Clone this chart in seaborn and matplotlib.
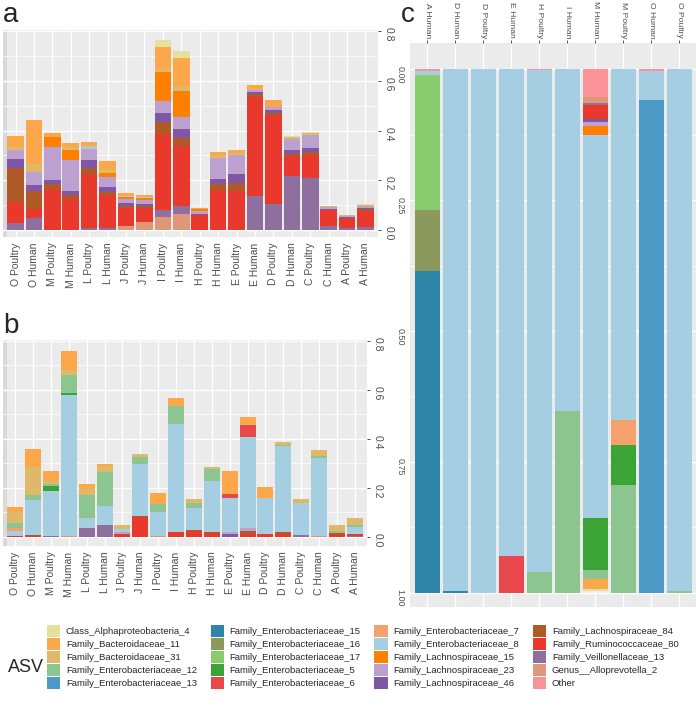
import matplotlib
matplotlib.use("Agg")
import matplotlib.pyplot as plt
import pandas as pd
import seaborn as sns
from matplotlib.patches import Patch, Rectangle
from matplotlib.ticker import MultipleLocator

# ASVs in legend order (stacks are built from the last one at the baseline)
ASV_NAMES = [
    "Class_Alphaproteobacteria_4", "Family_Bacteroidaceae_11", "Family_Bacteroidaceae_31",
    "Family_Enterobacteriaceae_12", "Family_Enterobacteriaceae_13", "Family_Enterobacteriaceae_15",
    "Family_Enterobacteriaceae_16", "Family_Enterobacteriaceae_17", "Family_Enterobacteriaceae_5",
    "Family_Enterobacteriaceae_6", "Family_Enterobacteriaceae_7", "Family_Enterobacteriaceae_8",
    "Family_Lachnospiraceae_15", "Family_Lachnospiraceae_23", "Family_Lachnospiraceae_46",
    "Family_Lachnospiraceae_84", "Family_Ruminococcaceae_80", "Family_Veillonellaceae_13",
    "Genus__Alloprevotella_2", "Other",
]
ASV_COLORS = [
    "#E5E09E", "#FDA74B", "#DFB86A", "#8CC590", "#4E9AC7", "#2E87A9", "#8B995C",
    "#89CC6B", "#3CA437", "#E8484B", "#F5A16E", "#A6CEE3", "#FF7F00", "#BBA0D0",
    "#7F57A6", "#B05A28", "#E8392C", "#8F6F9D", "#E0967A", "#F99398",
]

SAMPLES_AB = [
    "O Poultry", "O Human", "M Poultry", "M Human", "L Poultry", "L Human",
    "J Poultry", "J Human", "I Poultry", "I Human", "H Poultry", "H Human",
    "E Poultry", "E Human", "D Poultry", "D Human", "C Poultry", "C Human",
    "A Poultry", "A Human",
]
SAMPLES_C = [
    "A Human", "D Human", "D Poultry", "E Human", "H Poultry",
    "I Human", "M Human", "M Poultry", "O Human", "O Poultry",
]

# panel a: relative abundance, one value per sample in SAMPLES_AB
abund_a = {
    "Class_Alphaproteobacteria_4": [0, 0, 0, 0, 0, 0, 0, 0, 0.027, 0.031, 0, 0, 0, 0, 0, 0.004, 0.003, 0, 0, 0.003],
    "Family_Bacteroidaceae_11": [0.044, 0.177, 0.017, 0.016, 0.011, 0.036, 0.011, 0.007, 0.091, 0.114, 0.007, 0.011, 0.011, 0.015, 0.027, 0, 0, 0, 0, 0],
    "Family_Bacteroidaceae_31": [0.009, 0.034, 0, 0.013, 0.007, 0.013, 0, 0, 0.013, 0.02, 0, 0.011, 0.009, 0.005, 0, 0.009, 0.009, 0.004, 0.005, 0.004],
    "Family_Enterobacteriaceae_8": [0, 0, 0, 0, 0.009, 0, 0.004, 0.005, 0, 0, 0, 0, 0, 0, 0, 0, 0, 0, 0, 0],
    "Family_Lachnospiraceae_15": [0, 0, 0.04, 0.04, 0, 0.017, 0.009, 0.008, 0.117, 0.103, 0.007, 0, 0, 0, 0, 0, 0, 0, 0, 0],
    "Family_Lachnospiraceae_23": [0.04, 0.051, 0.134, 0.128, 0.044, 0.04, 0.013, 0.013, 0.047, 0.047, 0.011, 0.087, 0.077, 0.009, 0.013, 0.046, 0.051, 0.005, 0.005, 0.008],
    "Family_Lachnospiraceae_46": [0.034, 0.027, 0.016, 0.016, 0.034, 0.019, 0.013, 0.008, 0.038, 0.038, 0.004, 0.019, 0.035, 0.008, 0.011, 0.013, 0.016, 0.007, 0.005, 0.006],
    "Family_Lachnospiraceae_84": [0.137, 0.071, 0.021, 0.015, 0.023, 0.011, 0.009, 0.009, 0.046, 0.034, 0, 0.027, 0.036, 0.009, 0.009, 0.011, 0.013, 0, 0, 0.008],
    "Family_Ruminococcaceae_80": [0.085, 0.036, 0.164, 0.123, 0.22, 0.133, 0.071, 0.058, 0.306, 0.242, 0.06, 0.158, 0.154, 0.4, 0.358, 0.081, 0.094, 0.062, 0.04, 0.065],
    "Family_Veillonellaceae_13": [0.027, 0.047, 0, 0, 0.005, 0.008, 0, 0, 0.031, 0.03, 0, 0, 0, 0.137, 0.105, 0.215, 0.208, 0.016, 0.005, 0.01],
    "Genus__Alloprevotella_2": [0, 0, 0, 0, 0, 0, 0.016, 0.03, 0.05, 0.064, 0, 0, 0, 0, 0, 0, 0, 0, 0, 0],
}

# panel b
abund_b = {
    "Family_Bacteroidaceae_11": [0.02, 0.073, 0.038, 0.078, 0.02, 0.01, 0, 0, 0.042, 0.034, 0, 0, 0.093, 0.027, 0.041, 0, 0, 0, 0, 0],
    "Family_Bacteroidaceae_31": [0.045, 0.113, 0.014, 0.023, 0.023, 0.022, 0.016, 0.011, 0, 0, 0.018, 0.007, 0, 0.003, 0.003, 0.01, 0.014, 0.023, 0.025, 0.028],
    "Family_Enterobacteriaceae_12": [0.02, 0.02, 0.01, 0.072, 0.093, 0.139, 0, 0.03, 0.033, 0.072, 0.02, 0.048, 0, 0, 0, 0.004, 0, 0.011, 0.008, 0.01],
    "Family_Enterobacteriaceae_5": [0, 0, 0.02, 0.01, 0, 0, 0, 0, 0, 0, 0, 0, 0, 0, 0, 0, 0, 0, 0, 0],
    "Family_Enterobacteriaceae_6": [0, 0, 0, 0, 0, 0, 0, 0, 0, 0, 0, 0, 0.019, 0.049, 0, 0, 0, 0, 0, 0],
    "Family_Enterobacteriaceae_7": [0.012, 0, 0, 0, 0, 0, 0, 0, 0, 0, 0, 0, 0, 0, 0, 0, 0, 0, 0, 0],
    "Family_Enterobacteriaceae_8": [0.02, 0.143, 0.181, 0.573, 0.044, 0.078, 0.014, 0.21, 0.1, 0.442, 0.09, 0.207, 0.136, 0.373, 0.147, 0.351, 0.132, 0.317, 0, 0.03],
    "Family_Lachnospiraceae_23": [0, 0, 0, 0, 0, 0, 0.006, 0, 0, 0, 0, 0, 0.011, 0.011, 0, 0, 0, 0, 0, 0],
    "Family_Lachnospiraceae_46": [0, 0, 0, 0, 0, 0, 0, 0, 0, 0, 0, 0, 0.01, 0, 0, 0, 0, 0, 0, 0],
    "Family_Lachnospiraceae_84": [0, 0.004, 0, 0, 0, 0, 0, 0.004, 0, 0, 0.004, 0.004, 0, 0.011, 0, 0.01, 0, 0, 0.005, 0],
    "Family_Ruminococcaceae_80": [0.005, 0.004, 0, 0, 0, 0, 0.014, 0.082, 0, 0.02, 0.024, 0.018, 0, 0.014, 0.011, 0.011, 0, 0, 0.01, 0.005],
    "Family_Veillonellaceae_13": [0, 0, 0.005, 0, 0.035, 0.049, 0, 0, 0, 0, 0, 0, 0, 0, 0, 0, 0.008, 0, 0, 0.005],
    "Genus__Alloprevotella_2": [0, 0, 0, 0.005, 0, 0, 0, 0, 0.003, 0, 0, 0, 0, 0, 0, 0, 0, 0.004, 0, 0],
}

# panel c: one value per sample in SAMPLES_C
abund_c = {
    "Class_Alphaproteobacteria_4": [0, 0, 0, 0, 0, 0, 0.004, 0, 0, 0],
    "Family_Bacteroidaceae_11": [0, 0, 0, 0, 0, 0, 0.019, 0, 0, 0],
    "Family_Enterobacteriaceae_12": [0, 0, 0, 0, 0.04, 0.347, 0.016, 0.206, 0, 0.003],
    "Family_Enterobacteriaceae_13": [0, 0, 0, 0, 0, 0, 0, 0, 0.942, 0],
    "Family_Enterobacteriaceae_15": [0.615, 0.003, 0, 0, 0, 0, 0, 0, 0, 0],
    "Family_Enterobacteriaceae_16": [0.116, 0, 0, 0, 0, 0, 0, 0, 0, 0],
    "Family_Enterobacteriaceae_17": [0.257, 0, 0, 0, 0, 0, 0, 0, 0, 0],
    "Family_Enterobacteriaceae_5": [0, 0, 0, 0, 0, 0, 0.1, 0.076, 0, 0],
    "Family_Enterobacteriaceae_6": [0, 0, 0, 0.07, 0, 0, 0, 0, 0, 0],
    "Family_Enterobacteriaceae_7": [0, 0, 0, 0, 0, 0, 0, 0.048, 0, 0],
    "Family_Enterobacteriaceae_8": [0.008, 0.997, 1.0, 0.93, 0.958, 0.653, 0.732, 0.67, 0.055, 0.997],
    "Family_Lachnospiraceae_15": [0, 0, 0, 0, 0, 0, 0.016, 0, 0, 0],
    "Family_Lachnospiraceae_23": [0, 0, 0, 0, 0, 0, 0.009, 0, 0, 0],
    "Family_Lachnospiraceae_46": [0, 0, 0, 0, 0, 0, 0.004, 0, 0, 0],
    "Family_Ruminococcaceae_80": [0, 0, 0, 0, 0, 0, 0.027, 0, 0, 0],
    "Family_Veillonellaceae_13": [0, 0, 0, 0, 0, 0, 0.005, 0, 0, 0],
    "Genus__Alloprevotella_2": [0, 0, 0, 0, 0, 0, 0.011, 0, 0, 0],
    "Other": [0.004, 0, 0, 0, 0.002, 0, 0.053, 0, 0.003, 0],
}

PALETTE = dict(zip(ASV_NAMES, ASV_COLORS))
TEXT_GREY = "#4D4D4D"


def to_long(samples, abund):
    rows = []
    for asv in ASV_NAMES:
        vals = abund.get(asv, [0.0] * len(samples))
        for s, v in zip(samples, vals):
            rows.append((s, asv, v))
    return pd.DataFrame(rows, columns=["sample", "ASV", "abundance"])


def draw_stack(ax, samples, abund):
    df = to_long(samples, abund)
    sns.histplot(
        data=df, x="sample", weights="abundance", hue="ASV",
        hue_order=ASV_NAMES, palette=PALETTE, multiple="stack",
        discrete=True, shrink=0.9, linewidth=0, alpha=1,
        legend=False, ax=ax,
    )
    ax.set_xlabel("")
    ax.set_ylabel("")
    ax.grid(which="major", color="white", linewidth=1.0)
    ax.grid(which="minor", axis="y", color="white", linewidth=0.5)
    ax.set_axisbelow(True)
    for s in ax.spines.values():
        s.set_visible(False)
    ax.tick_params(which="major", length=2.5, width=0.6, color="#333333",
                   labelcolor=TEXT_GREY, pad=1.5)
    ax.tick_params(which="minor", length=0)


sns.set_theme(style="darkgrid", rc={"axes.facecolor": "#EBEBEB", "grid.color": "white"})
plt.rcParams["font.family"] = ["Liberation Sans", "DejaVu Sans"]

W, H = 696, 716
fig = plt.figure(figsize=(W / 100, H / 100), dpi=100)


def px_axes(x0, y0, x1, y1):
    return fig.add_axes([x0 / W, 1 - y1 / H, (x1 - x0) / W, (y1 - y0) / H])


# ---- panels a and b: bars up from the bottom, value axis on the right
for (x1, y0, y1), abund, ylim in [
    ((378, 30, 237), abund_a, (-0.03, 0.806)),
    ((367, 340, 546), abund_b, (-0.037, 0.804)),
]:
    ax = px_axes(3, y0, x1, y1)
    draw_stack(ax, SAMPLES_AB, abund)
    ax.set_xlim(-0.68, len(SAMPLES_AB) - 0.32)
    ax.set_ylim(*ylim)
    ax.yaxis.set_major_locator(MultipleLocator(0.2))
    ax.yaxis.set_minor_locator(MultipleLocator(0.1))
    ax.yaxis.set_major_formatter(lambda v, p: f"{v:.1f}")
    ax.yaxis.tick_right()
    ax.tick_params(axis="x", labelrotation=90, labelsize=7.5)
    ax.tick_params(axis="y", labelrotation=270, labelsize=7.5)
    ax.add_patch(Rectangle((0, 0), 0.011, 1, transform=ax.transAxes,
                           color="#D9D9D9", zorder=0.5, linewidth=0))

# ---- panel c: proportions, 0 at the top
axc = px_axes(410, 43, 696, 607)
draw_stack(axc, SAMPLES_C, abund_c)
axc.set_xlim(-0.62, len(SAMPLES_C) - 0.41)
axc.set_ylim(1.027, -0.05)
axc.yaxis.set_major_locator(MultipleLocator(0.25))
axc.yaxis.set_minor_locator(MultipleLocator(0.125))
axc.yaxis.set_major_formatter(lambda v, p: f"{v:.2f}")
axc.xaxis.tick_top()
axc.tick_params(axis="x", labelrotation=270, labelsize=6.1, pad=1)
axc.tick_params(axis="y", labelrotation=270, labelsize=6.5)

# ---- panel letters
fig.text(3 / W, 1 - 22 / H, "a", fontsize=20, va="baseline", ha="left")
fig.text(3 / W, 1 - 333 / H, "b", fontsize=20, va="baseline", ha="left")
fig.text(401 / W, 1 - 22 / H, "c", fontsize=20, va="baseline", ha="left")

# ---- shared legend
handles = [Patch(facecolor=c, edgecolor="none", label=n) for n, c in zip(ASV_NAMES, ASV_COLORS)]
fig.legend(
    handles=handles, ncol=4, loc="upper left",
    bbox_to_anchor=(47 / W, 1 - 625 / H), frameon=False,
    fontsize=6.8, handlelength=1.4, handleheight=1.6, labelspacing=0.1,
    handletextpad=0.6, columnspacing=1.45, borderpad=0, borderaxespad=0,
)
fig.text(8 / W, 1 - 668 / H, "ASV", fontsize=13, va="center", ha="left")

fig.savefig("out.png", dpi=100)
